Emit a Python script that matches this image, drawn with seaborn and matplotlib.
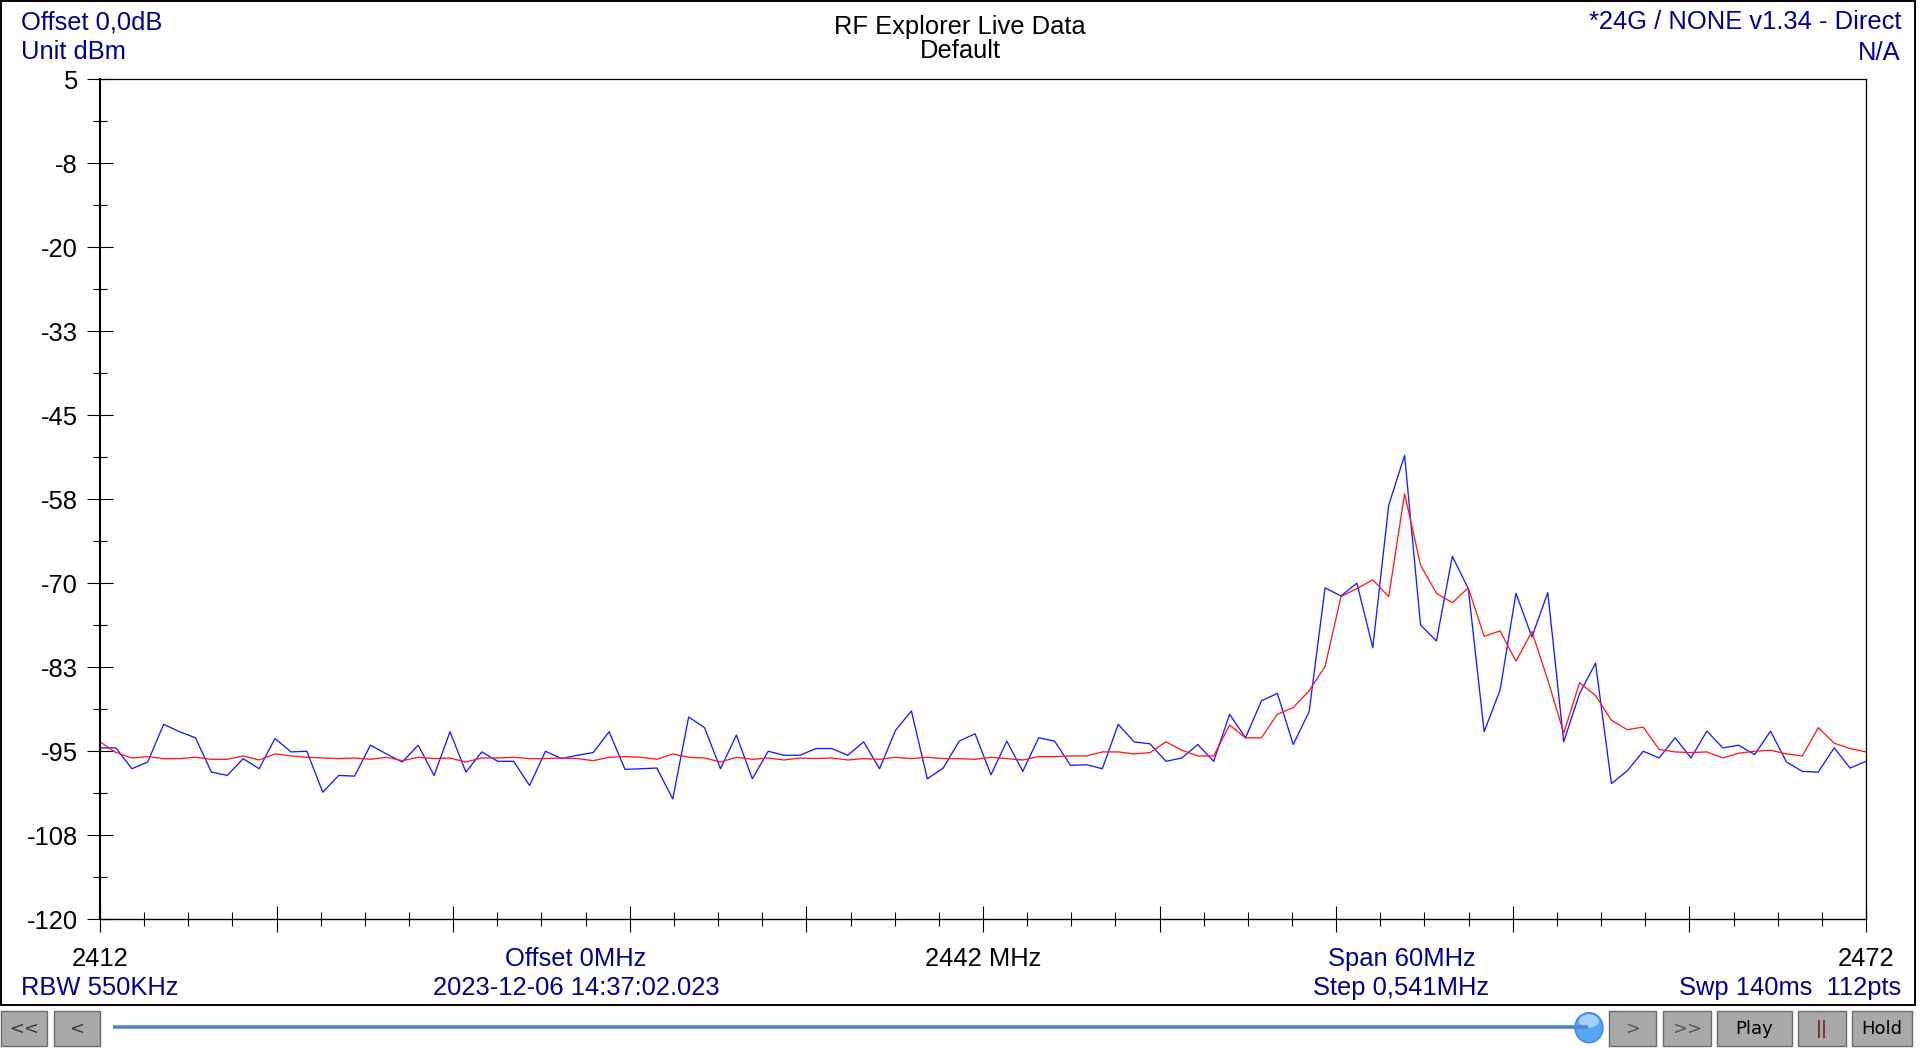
import numpy as np
import pandas as pd
import matplotlib
matplotlib.use("Agg")
import matplotlib.pyplot as plt
from matplotlib.patches import Rectangle, Ellipse
from matplotlib.lines import Line2D
from matplotlib.ticker import AutoMinorLocator
import seaborn as sns

# ---------------- data ----------------
START_MHZ = 2412
STOP_MHZ = 2472
N_POINTS = 112

realtime_dbm = [
    -94.5, -94.5, -97.6, -96.6, -91.0, -92.1, -93.0, -98.1, -98.6, -96.1,
    -97.6, -93.1, -95.1, -95.0, -101.1, -98.6, -98.7, -94.1, -95.4, -96.6,
    -94.1, -98.6, -92.1, -98.1, -95.1, -96.5, -96.5, -100.1, -95.0, -96.1,
    -95.6, -95.2, -92.1, -97.7, -97.6, -97.5, -102.1, -89.9, -91.5, -97.6,
    -92.6, -99.1, -95.0, -95.6, -95.6, -94.6, -94.6, -95.6, -93.6, -97.6,
    -91.9, -89.0, -99.1, -97.5, -93.5, -92.4, -98.5, -93.5, -98.0, -93.0,
    -93.5, -97.1, -97.0, -97.6, -91.0, -93.6, -93.9, -96.5, -96.0, -94.0,
    -96.5, -89.5, -93.0, -87.5, -86.4, -94.0, -89.1, -70.7, -71.9, -70.0,
    -79.6, -58.4, -51.0, -76.2, -78.6, -66.0, -70.8, -92.1, -85.9, -71.5,
    -78.0, -71.4, -93.6, -86.4, -81.9, -99.8, -97.9, -95.0, -96.0, -93.0,
    -96.0, -92.0, -94.5, -94.1, -95.5, -92.0, -96.6, -98.0, -98.1, -94.5,
    -97.5, -96.5,
]

average_dbm = [
    -93.6, -95.2, -96.0, -95.8, -96.1, -96.1, -95.9, -96.2, -96.2, -95.7,
    -96.3, -95.4, -95.7, -95.9, -96.0, -96.1, -96.0, -96.2, -95.9, -96.4,
    -95.9, -96.1, -96.0, -96.6, -96.0, -96.0, -95.9, -96.1, -96.1, -96.0,
    -96.1, -96.4, -95.9, -95.8, -95.9, -96.2, -95.4, -95.9, -96.0, -96.6,
    -95.9, -96.2, -96.0, -96.3, -96.0, -96.1, -96.0, -96.3, -96.1, -96.2,
    -95.9, -96.1, -95.9, -96.1, -96.1, -96.2, -95.9, -96.1, -96.3, -95.8,
    -95.8, -95.7, -95.7, -95.1, -95.1, -95.4, -95.2, -93.6, -94.85, -95.7,
    -95.7, -91.1, -93.0, -93.0, -89.5, -88.5, -86.0, -82.4, -72.0, -70.8,
    -69.5, -72.0, -56.7, -67.3, -71.5, -72.9, -70.7, -77.9, -77.1, -81.6,
    -77.2, -84.4, -92.3, -84.8, -86.7, -90.4, -91.8, -91.4, -94.75, -95.1,
    -95.2, -95.1, -96.0, -95.3, -95.0, -94.85, -95.4, -95.7, -91.5, -93.8,
    -94.6, -95.1,
]

X_MAJOR_TICKS = [2412, 2418, 2424, 2430, 2436, 2442, 2448, 2454, 2460, 2466, 2472]
X_TICK_LABELS = ["2412", "", "", "", "", "2442 MHz", "", "", "", "", "2472"]
Y_MAJOR_TICKS = [5, -7.5, -20, -32.5, -45, -57.5, -70, -82.5, -95, -107.5, -120]
Y_TICK_LABELS = ["5", "-8", "-20", "-33", "-45", "-58", "-70", "-83", "-95", "-108", "-120"]

TRACE_NAMES = ["Realtime", "Average"]
TRACE_COLORS = {"Realtime": "#1a1aff", "Average": "#ff1a1a"}

HEADER_LEFT = ["Offset 0,0dB", "Unit dBm"]
HEADER_CENTER = ["RF Explorer Live Data", "Default"]
HEADER_RIGHT = ["*24G / NONE v1.34 - Direct", "N/A"]
FOOTER_ROW1 = ["Offset 0MHz", "Span 60MHz"]
FOOTER_ROW2 = ["RBW 550KHz", "2023-12-06 14:37:02.023", "Step 0,541MHz", "Swp 140ms  112pts"]
BUTTONS = ["<<", "<", ">", ">>", "Play", "||", "Hold"]

# ---------------- table ----------------
freq = np.linspace(START_MHZ, STOP_MHZ, N_POINTS)
df = pd.DataFrame({
    "freq": np.concatenate([freq, freq]),
    "dbm": np.concatenate([realtime_dbm, average_dbm]),
    "trace": [TRACE_NAMES[0]] * N_POINTS + [TRACE_NAMES[1]] * N_POINTS,
})

# ---------------- style ----------------
sns.set_theme(style="white")
plt.rcParams["font.family"] = ["Liberation Sans", "DejaVu Sans"]

W, H = 1920, 1048
fig = plt.figure(figsize=(W / 100, H / 100), dpi=100)
fig.patch.set_facecolor("white")


def fx(x):
    return x / W


def fy(y):
    return 1 - y / H


BLUE_TXT = "#00008f"
FS = 18.4

ax = fig.add_axes([fx(100), fy(919.3), (1866 - 100) / W, (919.3 - 79) / H])
ax.set_facecolor("white")

sns.lineplot(data=df, x="freq", y="dbm", hue="trace", hue_order=TRACE_NAMES,
             palette=TRACE_COLORS, estimator=None, sort=False, legend=False,
             linewidth=0.95, ax=ax)

ax.set_xlim(START_MHZ, STOP_MHZ)
ax.set_ylim(-120, 5)
ax.set_xlabel("")
ax.set_ylabel("")

ax.set_xticks(X_MAJOR_TICKS, X_TICK_LABELS)
ax.set_yticks(Y_MAJOR_TICKS, Y_TICK_LABELS)
ax.xaxis.set_minor_locator(AutoMinorLocator(4))
ax.yaxis.set_minor_locator(AutoMinorLocator(2))

ax.tick_params(which="both", bottom=True, left=True, top=False, right=False,
               direction="inout", color="black")
ax.tick_params(which="major", length=18.7, width=0.8, labelsize=FS, labelcolor="black")
ax.tick_params(which="minor", length=9.6, width=0.8)
ax.tick_params(axis="y", which="major", pad=6.5)
ax.tick_params(axis="x", which="major", pad=10.5)
for lab in ax.get_xticklabels() + ax.get_yticklabels():
    lab.set_fontfamily(["Liberation Sans", "DejaVu Sans"])

for side, lw in [("left", 1.5), ("bottom", 1.0), ("top", 0.9), ("right", 0.9)]:
    ax.spines[side].set_visible(True)
    ax.spines[side].set_color("black")
    ax.spines[side].set_linewidth(lw)

# ---------------- header / footer text ----------------
fig.text(fx(21), fy(29.3), HEADER_LEFT[0], ha="left", va="baseline", fontsize=FS, color=BLUE_TXT)
fig.text(fx(21), fy(59.3), HEADER_LEFT[1], ha="left", va="baseline", fontsize=FS, color=BLUE_TXT)
fig.text(fx(960), fy(34.3), HEADER_CENTER[0], ha="center", va="baseline", fontsize=FS, color="black")
fig.text(fx(960), fy(57.8), HEADER_CENTER[1], ha="center", va="baseline", fontsize=FS, color="black")
fig.text(fx(1901), fy(29.3), HEADER_RIGHT[0], ha="right", va="baseline", fontsize=FS, color=BLUE_TXT)
fig.text(fx(1901), fy(60), HEADER_RIGHT[1], ha="right", va="baseline", fontsize=FS, color=BLUE_TXT)

fig.text(fx(575.6), fy(966), FOOTER_ROW1[0], ha="center", va="baseline", fontsize=FS, color=BLUE_TXT)
fig.text(fx(1402), fy(966), FOOTER_ROW1[1], ha="center", va="baseline", fontsize=FS, color=BLUE_TXT)
fig.text(fx(21), fy(995), FOOTER_ROW2[0], ha="left", va="baseline", fontsize=FS, color=BLUE_TXT)
fig.text(fx(576.5), fy(995), FOOTER_ROW2[1], ha="center", va="baseline", fontsize=FS, color=BLUE_TXT)
fig.text(fx(1401.5), fy(995), FOOTER_ROW2[2], ha="center", va="baseline", fontsize=FS, color=BLUE_TXT)
fig.text(fx(1901), fy(995), FOOTER_ROW2[3], ha="right", va="baseline", fontsize=FS, color=BLUE_TXT)

# outer panel frame
fig.add_artist(Rectangle((fx(1), fy(1005)), (1915 - 1) / W, (1005 - 1) / H,
                         transform=fig.transFigure, fill=False, ec="black", lw=1.4))

# ---------------- toolbar ----------------
btn_x = [(1, 47), (54, 100), (1609, 1656), (1663, 1711), (1717, 1792), (1798, 1846), (1852, 1912)]
btn_txt_col = ["#3a3a3a", "#3a3a3a", "#555555", "#555555", "#000000", "#6e0f0f", "#000000"]
by0, by1 = 1011, 1046
for (x0, x1), label, col in zip(btn_x, BUTTONS, btn_txt_col):
    fig.add_artist(Rectangle((fx(x0), fy(by1)), (x1 - x0) / W, (by1 - by0) / H,
                             transform=fig.transFigure, fc="#a9a9a9", ec="#6b6b6b", lw=1.0))
    fig.text(fx((x0 + x1) / 2), fy((by0 + by1) / 2), label, ha="center", va="center",
             fontsize=13, color=col, family=["DejaVu Sans"])

fig.add_artist(Line2D([fx(113), fx(1588)], [fy(1027), fy(1027)], transform=fig.transFigure,
                      color="#4a86cf", lw=2.6, solid_capstyle="butt"))
fig.add_artist(Ellipse((fx(1589), fy(1027.7)), 28 / W, 30 / H, transform=fig.transFigure,
                       fc="#5aa6f6", ec="#3b86dc", lw=1.0))
fig.add_artist(Ellipse((fx(1589), fy(1021)), 20 / W, 13 / H, transform=fig.transFigure,
                       fc="#b9dcff", ec="none", alpha=0.8))

fig.savefig("out.png", dpi=100, facecolor="white")
